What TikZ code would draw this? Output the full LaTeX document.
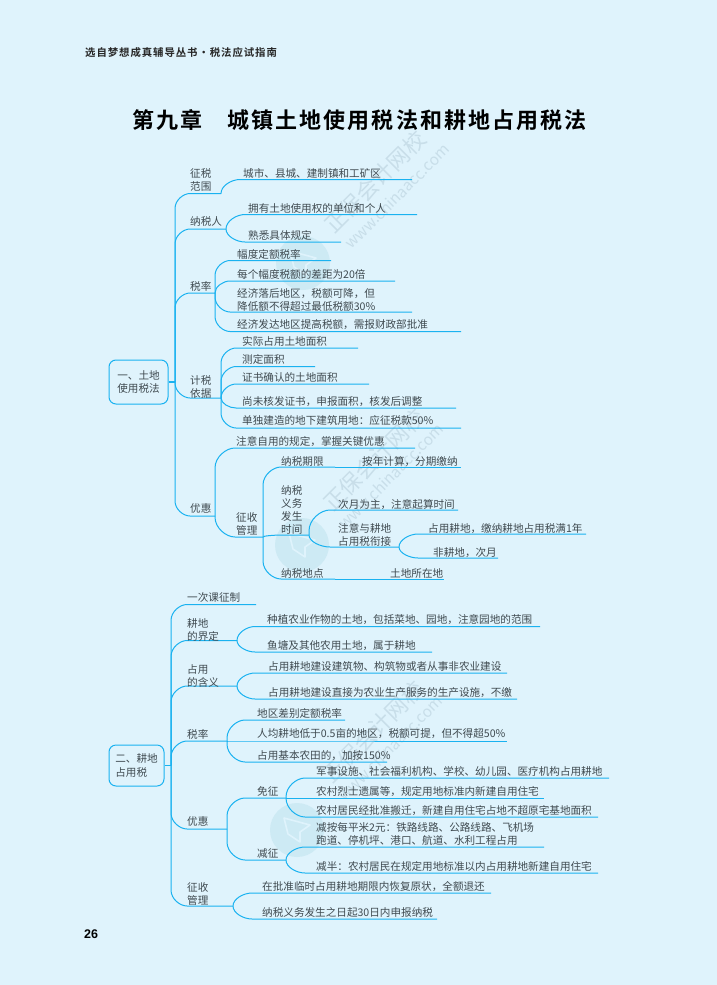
\documentclass[tikz,border=0pt]{standalone}
\usepackage{fontspec}
\usepackage{tikz}
\usetikzlibrary{calc}
\setmainfont{Noto Sans CJK SC}
\newfontfamily\headfont[LetterSpace=9]{Noto Sans CJK SC Bold}
\newfontfamily\titlefont[LetterSpace=9.5]{Noto Sans CJK SC Bold}
\newfontfamily\numfont{Liberation Sans}
\definecolor{pagebg}{HTML}{DFF3FC}
\definecolor{linecol}{HTML}{1AB2F0}
\definecolor{txtcol}{HTML}{3F4A50}
\definecolor{markcol}{HTML}{C8DEE9}
\definecolor{logocol}{HTML}{CDEAF4}
\tikzset{
  branch/.style={draw=linecol, line width=1pt},
  stem/.style={draw=linecol, line width=1.8pt},
  rootbox/.style={draw=linecol, line width=1pt, rounded corners=7pt, align=left, inner sep=0pt, text=txtcol, font=\fontsize{10.6}{13.5}\selectfont},
  lab/.style={anchor=base west, inner sep=0pt, align=left, text=txtcol, font=\fontsize{10.6}{13}\selectfont},
  wmark/.style={rotate=45, text=markcol}
}
\begin{document}
\begin{tikzpicture}[x=1pt,y=-1pt]
	\path[fill=pagebg] (0,0) rectangle (717,985);
	\useasboundingbox (0,0) rectangle (717,985);
	% 水印
	\foreach \i/\mx/\my/\ux/\uy/\lx/\ly in {a/375/182/397/196/303/263, b/374/460/391/476/302/545, c/373/732/390/748/297/830}{
		\fill[logocol] (\lx,\ly) circle (27);
		\draw[pagebg, line width=1.6pt, line join=round] (\lx-13,\ly-12) -- (\lx+13,\ly-5) -- (\lx+3,\ly+2) -- (\lx+3,\ly+12) -- (\lx-9,\ly+4) -- cycle;
		\node[wmark, font=\fontsize{22}{22}\selectfont] (wm\i) at (\mx,\my) {正保会计网校};
		\node[wmark, font=\fontsize{15.5}{16}\selectfont] (wu\i) at (\ux,\uy) {www.chinaacc.com};
	}
	% 页眉
	\node[anchor=base west, inner sep=0pt, text=black!85, font=\headfont\fontsize{10.4}{12}\selectfont] (head) at (85,56) {选自梦想成真辅导丛书·税法应试指南};
	\node[anchor=base west, inner sep=0pt, text=black, font=\titlefont\fontsize{22}{24}\selectfont] (title) at (132,128) {第九章\hspace{25pt}城镇土地使用税法和耕地占用税法};
	\node[anchor=base west, inner sep=0pt, text=black, font=\numfont\bfseries\fontsize{12.5}{14}\selectfont] (pagenum) at (84,938) {26};
	% 根节点
	\node[rootbox, minimum width=59pt, minimum height=44pt] (boxa) at (138.5,382) {一、土地\\使用税法};
	\node[rootbox, minimum width=55pt, minimum height=41pt] (boxb) at (136.5,765.5) {二、耕地\\占用税};
	\coordinate (ta) at (175,382);
	\coordinate (tb) at (171,765.5);
	\draw[stem] (boxa.east) -- (ta);
	\draw[stem] (boxb.east) -- (tb);
	% 分支
	\foreach \from/\id/\sx/\ly/\ex/\tx/\ty/\txt in {
		ta/aa/190/193.5/221/190/190/{征税\\范围},
		ta/ab/190/229/226/190/225/纳税人,
		ta/ac/190/293/215/190/290/税率,
		ta/ad/190/398/221/190/397/{计税\\依据},
		ta/ae/190/516/215/190/512/优惠,
		aae/aa1/240/179.5/412/243/177/城市、县城、建制镇和工矿区,
		abe/ab1/245/214.5/417/248/212/拥有土地使用权的单位和个人,
		abe/ab2/245/242/341/248/239/熟悉具体规定,
		ace/ac1/230/260.5/331/237/258/幅度定额税率,
		ace/ac2/230/281/395/237/278.5/每个幅度税额的差距为20倍,
		ace/ac3/230/312/412/237/310.5/{经济落后地区，税额可降，但\\降低额不得超过最低税额30\%},
		ace/ac4/230/331.5/461/237/328/经济发达地区提高税额，需报财政部批准,
		ade/ad1/236/348/358/242/345/实际占用土地面积,
		ade/ad2/236/366.5/315/242/363/测定面积,
		ade/ad3/236/384/369/242/381.5/证书确认的土地面积,
		ade/ad4/236/408/456/242/405/尚未核发证书，申报面积，核发后调整,
		ade/ad5/236/428/461/242/424/单独建造的地下建筑用地：应征税款50\%,
		aee/ae1/235/448/415/236/445/注意自用的规定，掌握关键优惠,
		aee/ae2/235/537/263/236/534.5/{征收\\管理},
		ae2e/af1/281/467/335/281/465/纳税期限,
		ae2e/af2/283/535/309/281/533/{纳税\\义务\\发生\\时间},
		ae2e/af3/281/579/335/281/577/纳税地点,
		af1e/af4/335/467/461/362/465/按年计算，分期缴纳,
		af3e/af5/335/579/444/390/577/土地所在地,
		af2e/ag1/330/510/458/338/508/次月为主，注意起算时间,
		af2e/ag2/330/547/399/338/545/{注意与耕地\\占用税衔接},
		ag2e/ag3/418/534/586/428/532/占用耕地，缴纳耕地占用税满1年,
		ag2e/ag4/418/558/498/433/556/非耕地，次月,
		tb/ba/187/604.5/256/187/601/一次课征制,
		tb/bb/187/640.5/237/187/640/{耕地\\的界定},
		tb/bc/187/686/237/187/686/{占用\\的含义},
		tb/bd/187/741/227/187/738/税率,
		tb/be/187/829/227/187/825/优惠,
		tb/bf/187/906/233/187/904/{征收\\管理},
		bbe/bb1/255/626.5/540/267/623/种植农业作物的土地，包括菜地、园地，注意园地的范围,
		bbe/bb2/255/652/432/267/649/鱼塘及其他农用土地，属于耕地,
		bce/bc1/255/673/507/268/670/占用耕地建设建筑物、构筑物或者从事非农业建设,
		bce/bc2/255/699/517/268/696/占用耕地建设直接为农业生产服务的生产设施，不缴,
		bde/bd1/245/720/345/257/717/地区差别定额税率,
		bde/bd2/245/741/507/257/737.5/人均耕地低于0.5亩的地区，税额可提，但不得超50\%,
		bde/bd3/245/762/387/257/759/占用基本农田的，加按150\%,
		bee/be1/245/798/286/257/795/免征,
		bee/be2/245/860/286/257/857/减征,
		be1e/bg1/305/778/609/316/775/军事设施、社会福利机构、学校、幼儿园、医疗机构占用耕地,
		be1e/bg2/305/798/544/316/795/农村烈士遗属等，规定用地标准内新建自用住宅,
		be1e/bg3/305/817/598/316/814/农村居民经批准搬迁，新建自用住宅占地不超原宅基地面积,
		be2e/bg4/305/847/544/316/844.5/{减按每平米2元：铁路线路、公路线路、飞机场\\跑道、停机坪、港口、航道、水利工程占用},
		be2e/bg5/305/873/598/316/870/减半：农村居民在规定用地标准以内占用耕地新建自用住宅,
		bfe/bf1/252/893/491/262/890/在批准临时占用耕地期限内恢复原状，全额退还,
		bfe/bf2/252/919/437/262/916/纳税义务发生之日起30日内申报纳税}{
		\coordinate (\id s) at (\sx,\ly);
		\coordinate (\id e) at (\ex,\ly);
		\draw[branch] let \p1=(\from), \p2=(\id s), \n1={min(abs(\y2-\y1),\x2-\x1)*(\y2>\y1?1:-1)} in
			(\p1) -- (\x1,{\y2-\n1}) .. controls (\x1,{\y2-0.45*\n1}) and ({\x2-0.45*(\x2-\x1)},\y2) .. (\p2) -- (\id e);
		\node[lab] (\id) at (\tx,\ty) {\txt};
	}
\end{tikzpicture}
\end{document}
